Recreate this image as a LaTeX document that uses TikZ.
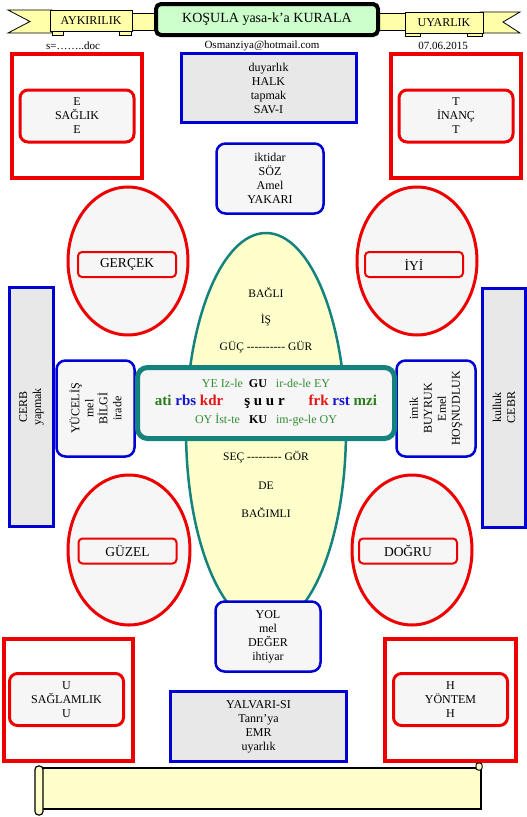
\documentclass[tikz,border=0pt]{standalone}
\usepackage{fontspec}
\setmainfont{Liberation Serif}
\usepackage{tikz}
\usetikzlibrary{positioning, shapes.geometric}
\definecolor{FrameRed}{RGB}{238, 0, 0}
\definecolor{LineBlue}{RGB}{0, 0, 210}
\definecolor{CoreTeal}{RGB}{20, 130, 125}
\definecolor{PaleGray}{gray}{0.965}
\definecolor{SheetGray}{gray}{0.91}
\definecolor{PaleYellow}{RGB}{255, 255, 204}
\definecolor{RibbonYellow}{RGB}{255, 255, 170}
\definecolor{TitleMint}{RGB}{204, 255, 204}
\definecolor{SoftGreen}{RGB}{50, 140, 50}
\definecolor{DeepGreen}{RGB}{40, 125, 25}
\definecolor{RuleBlue}{RGB}{20, 20, 210}
\definecolor{RuleRed}{RGB}{230, 20, 20}

\begin{document}
\begin{tikzpicture}[
        x=1pt, y=-1pt,
        every node/.style={font=\fontsize{12}{14}\selectfont, align=center, inner sep=1pt},
        redframe/.style={rectangle, draw=FrameRed, line width=4pt, minimum width=130pt, minimum height=124pt},
        redtag/.style={rectangle, draw=FrameRed, line width=3pt, rounded corners=8pt, fill=PaleGray, minimum width=114pt, minimum height=52pt},
        bluesheet/.style={rectangle, draw=LineBlue, line width=3pt, fill=SheetGray},
        bluetag/.style={rectangle, draw=LineBlue, line width=2.5pt, rounded corners=9pt, fill=PaleGray},
        redoval/.style={ellipse, draw=FrameRed, line width=3pt, fill=PaleGray, minimum width=120pt, minimum height=148pt},
        ovallabel/.style={rectangle, draw=FrameRed, line width=2pt, rounded corners=4pt, fill=PaleGray, minimum width=98pt, minimum height=25pt,
                          font=\fontsize{13.5}{15}\selectfont},
        ribbontab/.style={rectangle, draw=black, line width=0.8pt, fill=RibbonYellow, minimum height=21pt},
        infotext/.style={font=\fontsize{11}{13}\selectfont},
        ovaltext/.style={font=\fontsize{11.5}{13}\selectfont}
      ]
        \useasboundingbox (0, 0) rectangle (527, 817);

        \fill[RibbonYellow] (40, 13) rectangle (490, 30);
        \draw[line width=0.8pt] (40, 13) -- (490, 13) (40, 30) -- (490, 30);
        \filldraw[fill=RibbonYellow, line width=0.8pt] (8, 10) -- (52, 10) -- (52, 33) -- (8, 33) -- (30, 21.5) -- cycle;
        \filldraw[fill=RibbonYellow, line width=0.8pt] (480, 12) -- (520, 12) -- (503, 22) -- (520, 33) -- (480, 33) -- cycle;
        \filldraw[fill=RibbonYellow, line width=0.8pt] (52, 31) rectangle (63, 35);
        \filldraw[fill=RibbonYellow, line width=0.8pt] (119, 31) rectangle (131, 35);
        \filldraw[fill=RibbonYellow, line width=0.8pt] (405, 32) rectangle (420, 36);
        \filldraw[fill=RibbonYellow, line width=0.8pt] (467, 32) rectangle (482, 36);
        \node (aykiri) at (91, 21) [ribbontab, minimum width=82pt] {AYKIRILIK};
        \node (uyar)   at (444, 22.5) [ribbontab, minimum width=78pt] {UYARLIK};
        \node (title)  at (267, 19.5) [rectangle, draw=black, line width=4pt, rounded corners=5pt, fill=TitleMint,
                       minimum width=222pt, minimum height=31pt, font=\fontsize{14}{16}\selectfont] {KOŞULA yasa-k’a KURALA};

        \node (file)  at (73, 46)  [infotext] {s=……..doc};
        \node (mail)  at (262, 46) [infotext] {Osmanziya@hotmail.com};
        \node (date)  at (443, 46) [infotext] {07.06.2015};

        \node (tlframe) at (77, 116)  [redframe] {};
        \node (saglik)  at (tlframe)  [redtag] {E\\SAĞLIK\\E};
        \node (trframe) at (456, 116) [redframe] {};
        \node (inanc)   at (trframe)  [redtag] {T\\İNANÇ\\T};

        \node (halk) at (268.5, 88)  [bluesheet, minimum width=175pt, minimum height=69pt] {duyarlık\\HALK\\tapmak\\SAV-I};
        \node (soz)  at (270, 178.5) [bluetag, minimum width=107pt, minimum height=70pt] {iktidar\\SÖZ\\Amel\\YAKARI};

        \node (gercek) at (128, 261) [redoval] {};
        \node (gercektag) at (127, 264.5) [ovallabel] {GERÇEK};
        \node (iyi) at (417, 261) [redoval] {};
        \node (iyitag) at (414, 264.5) [ovallabel] {İYİ};

        \node (core) at (266, 430) [ellipse, draw=CoreTeal, line width=2.5pt, fill=PaleYellow, minimum width=160pt, minimum height=394pt] {};
        \node (bagli)   at (266, 293) [ovaltext] {BAĞLI};
        \node (is)      at (266, 320) [ovaltext] {İŞ};
        \node (guc)     at (266, 347) [ovaltext] {GÜÇ -{}-{}-{}-{}-{}-{}-{}-{}-{}- GÜR};
        \node (sec)     at (266, 457) [ovaltext] {SEÇ -{}-{}-{}-{}-{}-{}-{}-{}- GÖR};
        \node (de)      at (266, 486) [ovaltext] {DE};
        \node (bagimli) at (266, 513) [ovaltext] {BAĞIMLI};

        \node (cerb)    at (31.5, 407) [bluesheet, rotate=90, minimum width=239pt, minimum height=44pt] {CERB\\yapmak};
        \node (kulluk)  at (504, 407.5) [bluesheet, rotate=90, minimum width=239pt, minimum height=43pt] {kulluk\\CEBR};
        \node (yucelis) at (95.5, 408.5) [bluetag, rotate=90, minimum width=96pt, minimum height=78pt] {YÜCELİŞ\\mel\\BİLGİ\\irade};
        \node (imik)    at (436, 408.5) [bluetag, rotate=90, minimum width=96pt, minimum height=79pt] {imik\\BUYRUK\\Emel\\HOŞNUDLUK};

        \node (suur) at (266, 403) [rectangle, draw=CoreTeal, line width=5pt, rounded corners=10pt, fill=PaleGray,
                     minimum width=257pt, minimum height=71pt, font=\fontsize{12}{18}\selectfont]
          {\textcolor{SoftGreen}{YE Iz-le}\ \ \textbf{GU}\ \ \ \textcolor{SoftGreen}{ir-de-le EY}\\
           {\fontsize{15}{18}\selectfont\bfseries\textcolor{DeepGreen}{ati} \textcolor{RuleBlue}{rbs} \textcolor{RuleRed}{kdr}\hspace{1.4em}ş u u r\hspace{1.6em}\textcolor{RuleRed}{frk} \textcolor{RuleBlue}{rst} \textcolor{DeepGreen}{mzi}}\\
           \textcolor{SoftGreen}{OY İst-te}\ \ \ \textbf{KU}\ \ \ \textcolor{SoftGreen}{im-ge-le OY}};

        \node (guzel) at (129, 550) [redoval, minimum width=122pt, minimum height=150pt] {};
        \node (guzeltag) at (127.5, 551) [ovallabel] {GÜZEL};
        \node (dogru) at (412, 550) [redoval, minimum width=120pt, minimum height=150pt] {};
        \node (dogrutag) at (408, 551) [ovallabel] {DOĞRU};

        \node (yol)    at (268, 636.5)   [bluetag, minimum width=105pt, minimum height=70pt] {YOL\\mel\\DEĞER\\ihtiyar};
        \node (yalvar) at (258.5, 726.5) [bluesheet, minimum width=176pt, minimum height=70pt] {YALVARI-SI\\Tanrı’ya\\EMR\\uyarlık};

        \node (blframe) at (68, 700)  [redframe, minimum width=129pt, minimum height=122pt] {};
        \node (saglam)  at (66.5, 699.5) [redtag] {U\\SAĞLAMLIK\\U};
        \node (brframe) at (450, 700) [redframe, minimum width=131pt, minimum height=122pt] {};
        \node (yontem)  at (450.5, 699.5) [redtag] {H\\YÖNTEM\\H};

        \filldraw[fill=PaleYellow, line width=1.5pt] (40, 768) rectangle (481, 809);
        \filldraw[fill=PaleYellow, line width=1.2pt, rounded corners=3.5pt] (35, 766) rectangle (43, 815);
        \filldraw[fill=PaleYellow, line width=1pt, rounded corners=2pt] (476, 763) rectangle (482, 770);
      \end{tikzpicture}
\end{document}
